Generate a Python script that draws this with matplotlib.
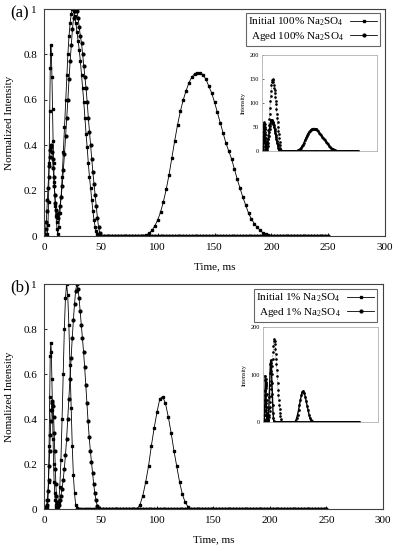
import numpy as np
import matplotlib
matplotlib.use("Agg")
from matplotlib import pyplot as plt

plt.rcParams['font.family'] = ['Liberation Serif', 'DejaVu Serif']
plt.rcParams['mathtext.fontset'] = 'custom'
plt.rcParams['mathtext.rm'] = 'Liberation Serif'
plt.rcParams['mathtext.default'] = 'rm'

# sampling grid (ms): finer at short times
t_grid = np.concatenate([np.arange(0, 2.01, 0.5), np.arange(2.5, 12.01, 0.5),
                         np.arange(13, 50.01, 1.0), np.arange(52.5, 250.01, 2.5)])

# ---------------- (a) 100% Na2SO4 ----------------
init_a = ([0, 0, 0, 0, 0]
          + [0.0, 0.01, 0.05, 0.15, 0.32, 0.55, 0.74, 0.84, 0.80, 0.70,
             0.56, 0.42, 0.32, 0.24, 0.18, 0.13, 0.09, 0.06, 0.03, 0.01]
          + [0.04, 0.10, 0.17, 0.26, 0.37, 0.48, 0.60, 0.71, 0.80, 0.88, 0.94, 0.98, 1.0,
             0.99, 0.97, 0.94, 0.90, 0.86, 0.82, 0.77, 0.71, 0.65, 0.59, 0.52, 0.45,
             0.39, 0.32, 0.26, 0.21, 0.16, 0.11, 0.07, 0.04, 0.02, 0.01, 0, 0, 0]
          + [0] * 15
          + [0.005, 0.012, 0.025, 0.045, 0.07, 0.105, 0.15, 0.205, 0.27, 0.345,
             0.42, 0.49, 0.55, 0.60, 0.64, 0.675, 0.70, 0.715, 0.72, 0.72,
             0.71, 0.69, 0.66, 0.63, 0.59, 0.545, 0.50, 0.455, 0.41, 0.375,
             0.34, 0.295, 0.25, 0.21, 0.17, 0.135, 0.10, 0.075, 0.055, 0.038,
             0.025, 0.015, 0.008, 0.003, 0.0]
          + [0] * 20)
aged_a = ([0, 0, 0.01, 0.03, 0.06]
          + [0.11, 0.16, 0.21, 0.26, 0.31, 0.35, 0.38, 0.40, 0.39, 0.37,
             0.34, 0.30, 0.26, 0.22, 0.18, 0.145, 0.115, 0.095, 0.085, 0.08]
          + [0.10, 0.13, 0.17, 0.22, 0.29, 0.36, 0.44, 0.52, 0.60, 0.69, 0.77, 0.84,
             0.91, 0.96, 0.99, 1.0, 0.99, 0.96, 0.92, 0.88, 0.85, 0.80, 0.75, 0.70,
             0.65, 0.59, 0.52, 0.46, 0.40, 0.34, 0.28, 0.23, 0.18, 0.13, 0.08,
             0.04, 0.015, 0.0]
          + [0] * 80)

# ---------------- (b) 1% Na2SO4 ----------------
init_b = ([0, 0, 0, 0, 0]
          + [0.0, 0.01, 0.04, 0.12, 0.28, 0.50, 0.68, 0.74, 0.70, 0.58,
             0.44, 0.31, 0.20, 0.12, 0.07, 0.04, 0.02, 0.01, 0.01, 0.01]
          + [0.03, 0.10, 0.22, 0.40, 0.60, 0.80, 0.94, 1.0, 0.95, 0.82, 0.64,
             0.45, 0.28, 0.15, 0.07, 0.02, 0.005]
          + [0] * 21
          + [0] * 12
          + [0.0, 0.02, 0.06, 0.12, 0.19, 0.28, 0.36, 0.43, 0.49, 0.50,
             0.47, 0.41, 0.34, 0.26, 0.19, 0.12, 0.065, 0.03, 0.01, 0.0]
          + [0] * 48)
aged_b = ([0, 0, 0, 0, 0.01]
          + [0.02, 0.04, 0.08, 0.13, 0.19, 0.26, 0.33, 0.39, 0.44, 0.47,
             0.48, 0.46, 0.41, 0.34, 0.26, 0.18, 0.11, 0.06, 0.03, 0.02]
          + [0.02, 0.04, 0.06, 0.09, 0.13, 0.18, 0.24, 0.31, 0.40, 0.49, 0.58,
             0.67, 0.76, 0.84, 0.91, 0.97, 1.0, 0.98, 0.94, 0.88, 0.82, 0.76,
             0.70, 0.63, 0.55, 0.47, 0.39, 0.32, 0.26, 0.21, 0.16, 0.11, 0.07,
             0.04, 0.015, 0.005, 0.0, 0.0]
          + [0] * 80)

# raw intensity maxima
scale_a = (65, 150)
scale_b = (130, 175)

labels_a = ['Initial 100% Na$_2$SO$_4$', 'Aged 100% Na$_2$SO$_4$']
labels_b = ['Initial 1% Na$_2$SO$_4$', 'Aged 1% Na$_2$SO$_4$']
yticks = [0, 0.2, 0.4, 0.6, 0.8, 1]
yticklabels = ['0', '0.2', '0.4', '0.6', '0.8', '1']

fig = plt.figure(figsize=(3.95, 5.5), dpi=100)


def panel(rect, inset_rect, init, aged, scales, labels, ylab, tag, tag_y, inset_ticks, leg_anchor):
    ax = fig.add_axes(rect)
    ax.plot(t_grid, init, '-', color='black', lw=0.6, marker='s', ms=2.1,
            mec='black', mfc='black', label=labels[0])
    ax.plot(t_grid, aged, '-', color='black', lw=0.6, marker='o', ms=2.0,
            mec='black', mfc='black', label=labels[1])
    ax.set_xlim(0, 300)
    ax.set_ylim(0, 1)
    ax.set_xticks([0, 50, 100, 150, 200, 250, 300])
    ax.set_yticks(yticks)
    ax.set_yticklabels(yticklabels)
    ax.tick_params(direction='in', length=2.5, width=0.6, labelsize=8, pad=5)
    for s in ax.spines.values():
        s.set_color('#404040')
        s.set_linewidth(0.8)
    ax.set_xlabel('Time, ms', fontsize=8)
    ax.xaxis.set_label_coords(0.5, -0.115)
    ax.set_ylabel(ylab, fontsize=8)
    ax.yaxis.set_label_coords(-0.088, 0.5)
    leg = ax.legend(loc='upper right', bbox_to_anchor=leg_anchor, borderaxespad=0,
                    markerfirst=False, fancybox=False, fontsize=8, handlelength=2.4,
                    borderpad=0.25, labelspacing=0.15, handletextpad=0.6)
    leg.get_frame().set_edgecolor('#404040')
    leg.get_frame().set_linewidth(0.8)
    fig.text(0.025, tag_y, tag, fontsize=12, va='center')

    # inset with raw intensities
    ins = fig.add_axes(inset_rect)
    ins.plot(t_grid, np.array(init) * scales[0], '-', color='black', lw=1.0,
             marker='s', ms=0.9)
    ins.plot(t_grid, np.array(aged) * scales[1], ':', color='black', lw=0.4,
             marker='o', ms=0.9)
    ins.set_xlim(0, 300)
    ins.set_ylim(0, 200)
    ins.set_xticks([])
    ins.set_yticks(inset_ticks)
    ins.tick_params(direction='in', length=1.5, width=0.4, labelsize=4.5, pad=2)
    ins.set_ylabel('Intensity', fontsize=4.5, labelpad=3)
    for s in ins.spines.values():
        s.set_color('#b0b0b0')
        s.set_linewidth(0.6)
    return ax


panel([0.1114, 0.5709, 0.8633, 0.4127], [0.663, 0.7255, 0.291, 0.1745],
      init_a, aged_a, scale_a, labels_a, 'Normalized Intensity', '(a)', 0.976,
      [0, 50, 100, 150, 200], (0.985, 0.982))
panel([0.1114, 0.0745, 0.858, 0.409], [0.666, 0.2327, 0.291, 0.1727],
      init_b, aged_b, scale_b, labels_b, 'Nomalized Intensity', '(b)', 0.478,
      [0, 100, 200], (0.982, 0.978))

plt.savefig('out.png', dpi=100)
